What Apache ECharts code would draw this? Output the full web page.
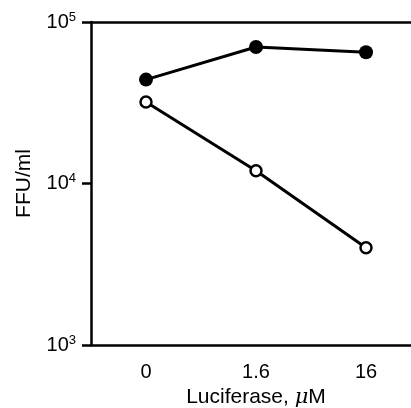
<!DOCTYPE html>
<html><head><meta charset="utf-8">
<script src="https://cdn.jsdelivr.net/npm/echarts@6/dist/echarts.min.js"></script>
<style>html,body{margin:0;padding:0;background:#fff}#c{width:411px;height:408px}</style>
</head><body><div id="c"></div>
<script>
const categories = ['0', '1.6', '16'];
const filledSeries = [44000, 70000, 65000];
const openSeries = [32000, 12000, 4000];
const yMin = 1000, yMax = 100000;

const chart = echarts.init(document.getElementById('c'), null, {renderer: 'canvas'});
const font = 'Liberation Sans, Arial, Helvetica, sans-serif';
chart.setOption({
  backgroundColor: '#fff',
  animation: false,
  grid: {left: 91, top: 22, width: 330, bottom: 63, containLabel: false, outerBoundsMode: 'none'},
  xAxis: [{
    type: 'category', data: categories, boundaryGap: true, position: 'bottom',
    axisLine: {lineStyle: {color: '#000', width: 2.5}},
    axisTick: {alignWithLabel: true, length: 8, lineStyle: {color: '#000', width: 2.5}},
    axisLabel: {color: '#000', fontFamily: font, fontSize: 20, margin: 17},
    name: 'Luciferase, {mu|μ}M', nameLocation: 'middle', nameGap: 38,
    nameTextStyle: {color: '#000', fontFamily: font, fontSize: 21,
      rich: {mu: {fontFamily: 'DejaVu Serif, serif', fontStyle: 'italic', fontSize: 21, color: '#000'}}},
    splitLine: {show: false}
  }, {
    type: 'category', data: categories, position: 'top',
    axisLine: {lineStyle: {color: '#000', width: 2.5}},
    axisTick: {show: false}, axisLabel: {show: false}, splitLine: {show: false}
  }],
  yAxis: {
    type: 'log', logBase: 10, min: yMin, max: yMax,
    axisLine: {show: true, lineStyle: {color: '#000', width: 2.5}},
    axisTick: {show: true, length: 9, lineStyle: {color: '#000', width: 2.5}},
    minorTick: {show: false},
    splitLine: {show: false},
    axisLabel: {
      color: '#000', fontFamily: font, fontSize: 20, margin: 15,
      formatter: function (v) { return '10{s|' + Math.round(Math.log10(v)) + '}'; },
      rich: {s: {fontSize: 13, fontFamily: font, color: '#000', verticalAlign: 'top', padding: [0, 0, 10, 0]}}
    },
    name: 'FFU/ml', nameLocation: 'middle', nameGap: 56, nameRotate: 90,
    nameTextStyle: {color: '#000', fontFamily: font, fontSize: 21}
  },
  series: [{
    type: 'line', data: filledSeries, symbol: 'circle', symbolSize: 14,
    lineStyle: {color: '#000', width: 3},
    itemStyle: {color: '#000', borderColor: '#000', borderWidth: 0}
  }, {
    type: 'line', data: openSeries, symbol: 'circle', symbolSize: 11,
    showAllSymbol: true,
    lineStyle: {color: '#000', width: 3},
    itemStyle: {color: '#fff', borderColor: '#000', borderWidth: 2.5}
  }]
});
</script></body></html>
